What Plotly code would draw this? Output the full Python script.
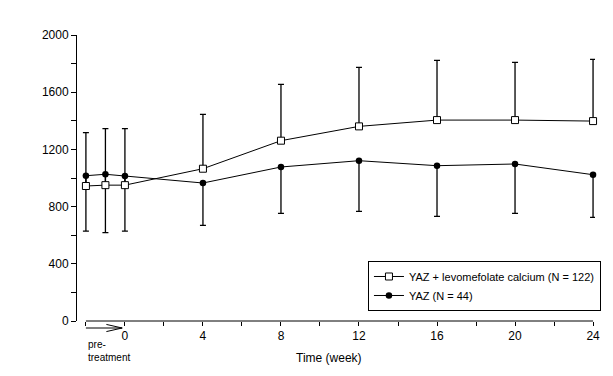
import plotly.graph_objects as go

# Data
weeks = [-2, -1, 0, 4, 8, 12, 16, 20, 24]
x_tick_vals = [0, 4, 8, 12, 16, 20, 24]
x_tick_text = ["0", "4", "8", "12", "16", "20", "24"]
y_tick_vals = [0, 400, 800, 1200, 1600, 2000]

levo_name = "YAZ + levomefolate calcium (N = 122)"
levo_mean = [944, 950, 950, 1065, 1261, 1361, 1405, 1405, 1398]
levo_sd_up = [373, 395, 395, 380, 394, 413, 418, 404, 432]

yaz_name = "YAZ (N = 44)"
yaz_mean = [1016, 1026, 1014, 965, 1077, 1121, 1086, 1098, 1023]
yaz_sd_down = [387, 408, 385, 296, 324, 354, 354, 345, 298]

zeros = [0] * len(weeks)

fig = go.Figure()
fig.add_trace(go.Scatter(
    x=weeks, y=yaz_mean, name=yaz_name, mode="lines+markers",
    line=dict(color="black", width=1),
    marker=dict(symbol="circle", size=6.5, color="black"),
    error_y=dict(type="data", symmetric=False, array=zeros, arrayminus=yaz_sd_down,
                 color="black", thickness=1.3, width=3),
    cliponaxis=False,
))
fig.add_trace(go.Scatter(
    x=weeks, y=levo_mean, name=levo_name, mode="lines+markers",
    line=dict(color="black", width=1),
    marker=dict(symbol="square", size=7, color="white", line=dict(color="black", width=1)),
    error_y=dict(type="data", symmetric=False, array=levo_sd_up, arrayminus=zeros,
                 color="black", thickness=1.3, width=3),
    cliponaxis=False,
))

font = dict(family="Liberation Sans, Arial, sans-serif", size=12, color="black")

# page body has an 8px margin, so the figure is 8px smaller and margins shifted
fig.update_layout(
    width=605, height=368,
    margin=dict(l=69, r=13, t=27, b=55),
    paper_bgcolor="white", plot_bgcolor="white",
    font=font,
    showlegend=True,
    legend=dict(
        x=1.0115, y=0.035, xanchor="right", yanchor="bottom",
        bordercolor="black", borderwidth=1, bgcolor="white",
        font=dict(family="Liberation Sans, Arial, sans-serif", size=11, color="black"),
        traceorder="reversed", tracegroupgap=0,
    ),
    xaxis=dict(
        range=[-2.457, 24.1], showgrid=False, zeroline=False, showline=False,
        tickvals=x_tick_vals, ticktext=x_tick_text,
        ticks="outside", ticklen=4, tickcolor="black", tickwidth=1,
        minor=dict(dtick=2, tick0=0, ticks="outside", ticklen=4, tickcolor="black", tickwidth=1),
        tickfont=font,
    ),
    yaxis=dict(
        range=[0, 2000], showgrid=False, zeroline=False,
        showline=True, linecolor="black", linewidth=1,
        tickvals=y_tick_vals,
        ticks="outside", ticklen=5, tickcolor="black", tickwidth=1,
        minor=dict(dtick=200, tick0=0, ticks="outside", ticklen=5, tickcolor="black", tickwidth=1),
        tickfont=font,
    ),
)

# x axis line spanning the data range only
fig.add_shape(type="line", xref="x", yref="paper", x0=weeks[0], x1=weeks[-1], y0=0, y1=0,
              line=dict(color="black", width=1))

# pre-treatment arrow
ay = -0.0245
fig.add_shape(type="line", xref="x", yref="paper", x0=weeks[0], x1=-0.14, y0=ay, y1=ay,
              line=dict(color="black", width=1))
fig.add_shape(type="path", xref="x", yref="paper",
              path=f"M -0.95 {ay + 0.0125} L -0.14 {ay} L -0.95 {ay - 0.0125}",
              line=dict(color="black", width=1))

fig.add_annotation(text="pre-<br>treatment", xref="x", yref="paper", x=weeks[0], y=-0.055,
                   xanchor="left", yanchor="top", showarrow=False, align="left",
                   font=dict(family="Liberation Sans, Arial, sans-serif", size=10, color="black"))

fig.add_annotation(text="Time (week)", xref="paper", yref="paper", x=0.4857, y=-0.098,
                   xanchor="center", yanchor="top", showarrow=False,
                   font=dict(family="Liberation Sans, Arial, sans-serif", size=12, color="black"))

fig.write_html("out.html")
